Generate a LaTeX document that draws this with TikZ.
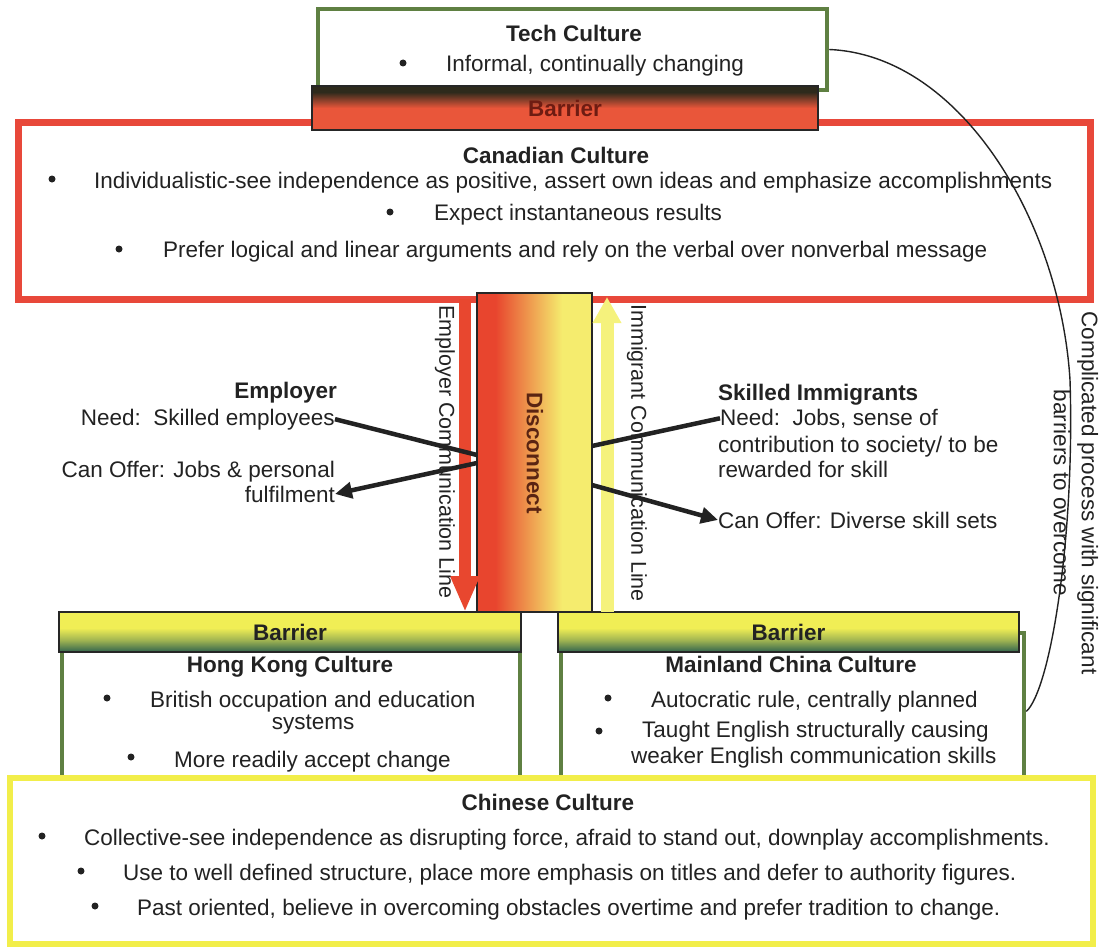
\documentclass[tikz,border=0pt]{standalone}
\usepackage{fontspec}
\setmainfont{Liberation Sans}
\usetikzlibrary{arrows.meta}

\definecolor{ink}{HTML}{222222}
\definecolor{boxgreen}{HTML}{5F8042}
\definecolor{canred}{HTML}{E8483A}
\definecolor{chyellow}{HTML}{F2EE4A}
\definecolor{bardark}{HTML}{2E2A1C}
\definecolor{barred}{HTML}{E9563A}
\definecolor{baryellow}{HTML}{F0EE55}
\definecolor{bargreen}{HTML}{3F6E4E}
\definecolor{discred}{HTML}{E8452E}
\definecolor{discyellow}{HTML}{F5EC6E}
\definecolor{arrred}{HTML}{E8472F}
\definecolor{arryellow}{HTML}{F5F27C}
\definecolor{barriertext}{HTML}{6E1C12}
\definecolor{disctext}{HTML}{5A2412}

% barrier and disconnect fills (path spans 25bp..75bp of the shading)
\pgfdeclareverticalshading{redbarrier}{100bp}{color(0bp)=(barred); color(25bp)=(barred); color(50bp)=(barred); color(68bp)=(bardark); color(100bp)=(bardark)}
\pgfdeclareverticalshading{greenbarrier}{100bp}{color(0bp)=(bargreen); color(27bp)=(bargreen); color(40bp)=(baryellow!55!bargreen); color(55bp)=(baryellow); color(100bp)=(baryellow)}
\pgfdeclarehorizontalshading{disconnect}{100bp}{color(0bp)=(discred); color(33bp)=(discred); color(62bp)=(discyellow); color(100bp)=(discyellow)}

\tikzset{
  txt/.style={font=\fontsize{22.5}{27}\selectfont, text=ink, inner sep=0pt},
  btxt/.style={font=\fontsize{22.5}{27}\selectfont\bfseries, text=ink, inner sep=0pt},
  sidetxt/.style={font=\fontsize{21.5}{26}\selectfont, text=ink, inner sep=0pt},
  bul/.style={circle, fill=ink, inner sep=0pt, minimum size=7pt},
  greenbox/.style={draw=boxgreen, line width=4.5pt, fill=white, inner sep=0pt},
  redbox/.style={draw=canred, line width=7pt, fill=white, inner sep=0pt},
  yellowbox/.style={draw=chyellow, line width=6.5pt, fill=white, inner sep=0pt},
  topbarrier/.style={draw=black!85, line width=1.3pt, shading=redbarrier, inner sep=0pt,
    font=\fontsize{22.5}{27}\selectfont\bfseries, text=barriertext},
  lowbarrier/.style={draw=black!85, line width=1.3pt, shading=greenbarrier, inner sep=0pt,
    font=\fontsize{22.5}{27}\selectfont\bfseries, text=ink},
  link/.style={draw=ink, line width=4.5pt},
  linkhead/.style={link, -{Triangle[length=17pt,width=16pt]}},
  commred/.style={draw=arrred, line width=12pt, -{Triangle[length=36pt,width=27pt]}},
  commyellow/.style={draw=arryellow, line width=13pt, -{Triangle[length=26pt,width=27pt]}},
  process/.style={draw=ink, line width=1.4pt},
}

\begin{document}
\begin{tikzpicture}[x=1pt, y=-1pt]
\useasboundingbox (0,0) rectangle (1102,947);
\fill[white] (0,0) rectangle (1102,947);

% ---- Canadian culture and the tech culture above it
\node[redbox, minimum width=1072pt, minimum height=176.5pt] (canada) at (554.5,210.75) {};
\node[greenbox, minimum width=509pt, minimum height=81pt] (tech) at (572.5,49.5) {};
\node[topbarrier, minimum width=506pt, minimum height=44pt] (topbar) at (565,108) {Barrier};

\node[btxt, anchor=base] (techT) at (574,42) {Tech Culture};
\node[bul] (techB1) at (403,63) {};
\node[txt, anchor=base west] (techL1) at (446,72) {Informal, continually changing};

\node[btxt, anchor=base] (canT) at (556,163) {Canadian Culture};
\node[bul] (canB1) at (52,179) {};
\node[txt, anchor=base west] (canL1) at (94,188) {Individualistic-see independence as positive, assert own ideas and emphasize accomplishments};
\node[bul] (canB2) at (390,212) {};
\node[txt, anchor=base west] (canL2) at (434,220) {Expect instantaneous results};
\node[bul] (canB3) at (119,249) {};
\node[txt, anchor=base west] (canL3) at (163,257) {Prefer logical and linear arguments and rely on the verbal over nonverbal message};

% ---- Hong Kong and Mainland China cultures
\node[greenbox, minimum width=458pt, minimum height=160pt] (hongkong) at (291,710) {};
\node[greenbox, minimum width=463pt, minimum height=157pt] (mainland) at (792.5,711.5) {};
\node[lowbarrier, minimum width=462pt, minimum height=40pt] (hkbar) at (290,632) {Barrier};
\node[lowbarrier, minimum width=461pt, minimum height=40pt] (mlbar) at (788.5,632) {Barrier};

\node[btxt, anchor=base] (hkT) at (290,672) {Hong Kong Culture};
\node[bul] (hkB1) at (107,698) {};
\node[txt, anchor=base west] (hkL1) at (150,707) {British occupation and education};
\node[txt, anchor=base] (hkL1b) at (313,729) {systems};
\node[bul] (hkB2) at (131,757) {};
\node[txt, anchor=base west] (hkL2) at (174,767) {More readily accept change};

\node[btxt, anchor=base] (mlT) at (791,672) {Mainland China Culture};
\node[bul] (mlB1) at (608,698) {};
\node[txt, anchor=base west] (mlL1) at (651,707) {Autocratic rule, centrally planned};
\node[bul] (mlB2) at (599,731) {};
\node[txt, anchor=base west] (mlL2) at (642,737) {Taught English structurally causing};
\node[txt, anchor=base west] (mlL2b) at (631,763) {weaker English communication skills};

% ---- Chinese culture
\node[yellowbox, minimum width=1083pt, minimum height=166pt] (chinese) at (551.5,861) {};
\node[btxt, anchor=base] (chT) at (548,810) {Chinese Culture};
\node[bul] (chB1) at (42,836) {};
\node[txt, anchor=base west] (chL1) at (84,845) {Collective-see independence as disrupting force, afraid to stand out, downplay accomplishments.};
\node[bul] (chB2) at (81,871) {};
\node[txt, anchor=base west] (chL2) at (123,880) {Use to well defined structure, place more emphasis on titles and defer to authority figures.};
\node[bul] (chB3) at (95,906) {};
\node[txt, anchor=base west] (chL3) at (137,915) {Past oriented, believe in overcoming obstacles overtime and prefer tradition to change.};

% ---- Disconnect and the two communication lines
\node[draw=black!85, line width=1.3pt, shading=disconnect, minimum width=115pt, minimum height=319pt, inner sep=0pt] (disc) at (534.5,452.5) {};
\node[btxt, text=disctext, rotate=-90] (discT) at (535,453) {Disconnect};

\coordinate (empTop) at (465,299);
\coordinate (empBot) at (465,612);
\coordinate (immBot) at (607,612);
\coordinate (immTop) at (607,297);
\draw[commred] (empTop) -- (empBot);
\draw[commyellow] (immBot) -- (immTop);
\node[sidetxt, rotate=-90] (empLine) at (445,452) {Employer Communication Line};
\node[sidetxt, rotate=-90] (immLine) at (637,453) {Immigrant Communication Line};

% ---- Employer and skilled immigrants
\node[btxt, anchor=base east] (empT) at (337,398) {Employer};
\node[txt, anchor=base east] (empNeed) at (335,425) {Need:~~Skilled employees};
\node[txt, anchor=base east] (empOffer1) at (335,477) {Can Offer: Jobs \& personal};
\node[txt, anchor=base east] (empOffer2) at (335,502) {fulfilment};

\node[btxt, anchor=base west] (immT) at (718,400) {Skilled Immigrants};
\node[txt, anchor=base west] (immNeed1) at (720,425) {Need:~~Jobs, sense of};
\node[txt, anchor=base west] (immNeed2) at (718,452) {contribution to society/ to be};
\node[txt, anchor=base west] (immNeed3) at (718,477) {rewarded for skill};
\node[txt, anchor=base west] (immOffer) at (718,528) {Can Offer: Diverse skill sets};

\coordinate (dl1) at (477,455);
\coordinate (dl2) at (477,463);
\coordinate (dr1) at (592,446);
\coordinate (dr2) at (592,485);
\draw[link] (empNeed.east) -- (dl1);
\draw[linkhead] (dl2) -- (empOffer2.east);
\draw[link] (dr1) -- (immNeed1.west);
\draw[linkhead] (dr2) -- (immOffer.west);

% ---- the long process from tech culture down to mainland China
\draw[process] (tech.east) .. controls (960,55) and (1060,220) .. (1070,380)
  .. controls (1075,540) and (1050,690) .. (mainland.east);
\node[txt, rotate=-90, align=center, font=\fontsize{22.5}{28}\selectfont] (procT) at (1076,493)
  {Complicated process with significant\\barriers to overcome};
\end{tikzpicture}
\end{document}
